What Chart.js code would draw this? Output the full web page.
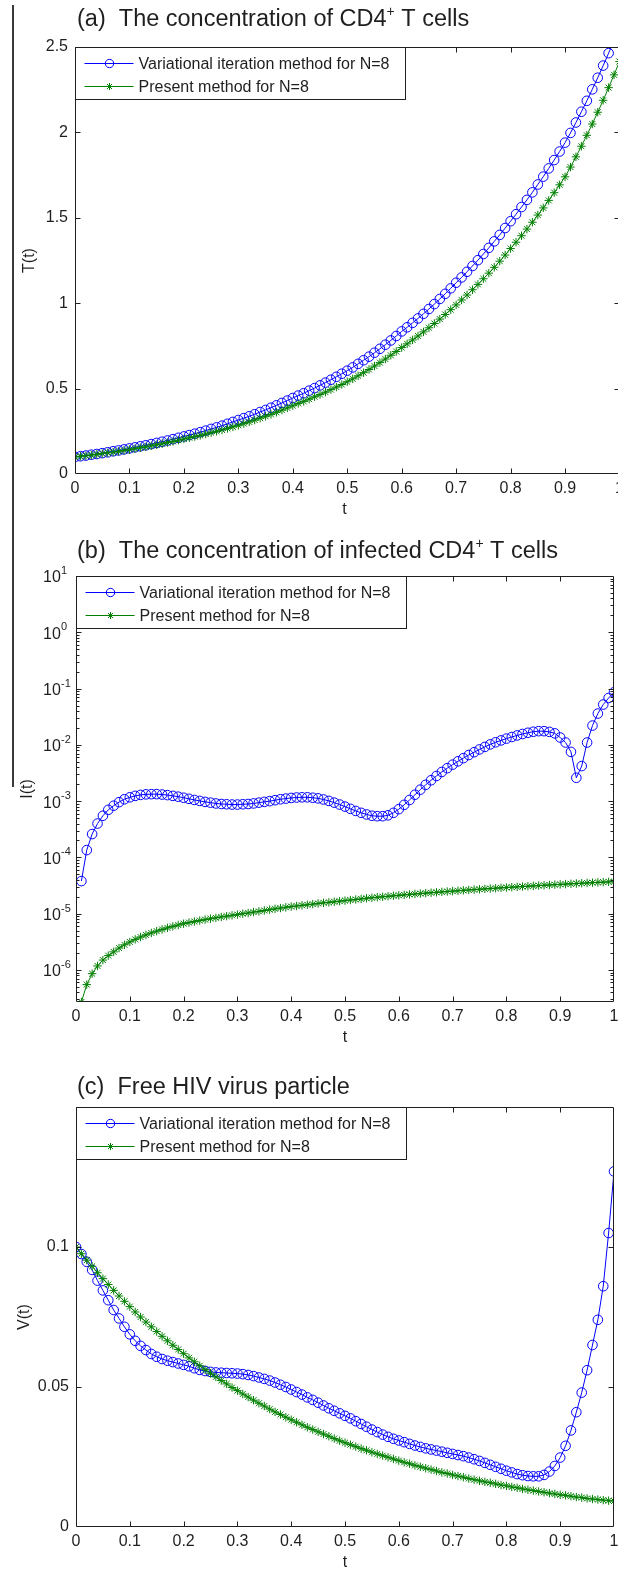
<!DOCTYPE html>
<html><head><meta charset="utf-8">
<title>HIV model: VIM vs present method</title>
<script src="https://cdn.jsdelivr.net/npm/chart.js@4.4.1/dist/chart.umd.min.js"></script>
<style>
html,body{margin:0;padding:0;background:#fff;overflow:hidden;}
body{width:618px;height:1569px;position:relative;}
.panel{position:absolute;left:0;}
#artifact{position:absolute;left:12px;top:5px;width:2px;height:782px;background:#3a3a3a;}
</style></head><body>
<canvas id="ca" class="panel" width="640" height="525" style="top:0"></canvas>
<canvas id="cb" class="panel" width="640" height="525" style="top:525px"></canvas>
<canvas id="cc" class="panel" width="640" height="519" style="top:1050px"></canvas>
<div id="artifact"></div>
<script>
// ---------------- data ----------------
const tValues = [0,0.01,0.02,0.03,0.04,0.05,0.06,0.07,0.08,0.09,0.1,0.11,0.12,0.13,0.14,0.15,0.16,0.17,0.18,0.19,0.2,0.21,0.22,0.23,0.24,0.25,0.26,0.27,0.28,0.29,0.3,0.31,0.32,0.33,0.34,0.35,0.36,0.37,0.38,0.39,0.4,0.41,0.42,0.43,0.44,0.45,0.46,0.47,0.48,0.49,0.5,0.51,0.52,0.53,0.54,0.55,0.56,0.57,0.58,0.59,0.6,0.61,0.62,0.63,0.64,0.65,0.66,0.67,0.68,0.69,0.7,0.71,0.72,0.73,0.74,0.75,0.76,0.77,0.78,0.79,0.8,0.81,0.82,0.83,0.84,0.85,0.86,0.87,0.88,0.89,0.9,0.91,0.92,0.93,0.94,0.95,0.96,0.97,0.98,0.99,1];

const legendLabels = ['Variational iteration method for N=8', 'Present method for N=8'];

// (a) T(t)
const vimT = [0.100,0.104,0.108,0.113,0.117,0.122,0.127,0.133,0.138,0.144,0.150,
0.156,0.162,0.168,0.175,0.182,0.189,0.196,0.204,0.212,0.220,
0.228,0.236,0.245,0.254,0.264,0.273,0.283,0.294,0.305,0.316,
0.327,0.338,0.350,0.363,0.375,0.388,0.402,0.416,0.430,0.445,
0.459,0.473,0.488,0.503,0.519,0.535,0.552,0.569,0.587,0.605,
0.624,0.645,0.666,0.687,0.710,0.733,0.757,0.782,0.808,0.835,
0.859,0.885,0.911,0.938,0.966,0.995,1.025,1.055,1.087,1.120,
1.151,1.184,1.218,1.252,1.288,1.324,1.362,1.400,1.440,1.480,
1.521,1.563,1.605,1.649,1.695,1.741,1.789,1.838,1.888,1.940,
1.997,2.058,2.121,2.185,2.252,2.320,2.391,2.464,2.539,2.616];
const presentT = [0.100,0.104,0.107,0.111,0.115,0.120,0.124,0.128,0.133,0.138,0.143,
0.148,0.154,0.159,0.165,0.171,0.177,0.184,0.191,0.198,0.205,
0.212,0.219,0.226,0.234,0.242,0.250,0.258,0.267,0.276,0.285,
0.295,0.305,0.316,0.327,0.338,0.349,0.361,0.374,0.387,0.400,
0.413,0.425,0.438,0.452,0.465,0.479,0.494,0.509,0.524,0.540,
0.557,0.575,0.593,0.612,0.632,0.652,0.673,0.695,0.717,0.740,
0.762,0.785,0.808,0.832,0.856,0.881,0.907,0.934,0.962,0.990,
1.019,1.048,1.079,1.110,1.143,1.176,1.210,1.246,1.282,1.320,
1.357,1.395,1.434,1.474,1.516,1.558,1.602,1.647,1.693,1.740,
1.797,1.857,1.919,1.983,2.049,2.118,2.188,2.262,2.337,2.415];

// (b) I(t)  (t = 0 gives 0, not shown on a log axis)
const vimI = [null,3.8e-5,1.35e-4,2.6e-4,4.0e-4,5.5e-4,7.0e-4,8.3e-4,9.6e-4,1.08e-3,1.17e-3,
1.24e-3,1.29e-3,1.32e-3,1.33e-3,1.33e-3,1.31e-3,1.28e-3,1.24e-3,1.20e-3,1.15e-3,
1.10e-3,1.05e-3,1.01e-3,9.7e-4,9.4e-4,9.1e-4,8.9e-4,8.8e-4,8.7e-4,8.7e-4,
8.8e-4,8.9e-4,9.1e-4,9.4e-4,9.7e-4,1.0e-3,1.04e-3,1.08e-3,1.11e-3,1.14e-3,
1.16e-3,1.17e-3,1.17e-3,1.15e-3,1.12e-3,1.07e-3,1.01e-3,9.4e-4,8.7e-4,8.0e-4,
7.3e-4,6.7e-4,6.2e-4,5.8e-4,5.5e-4,5.4e-4,5.4e-4,5.6e-4,6.2e-4,7.2e-4,
8.6e-4,1.05e-3,1.3e-3,1.6e-3,1.95e-3,2.35e-3,2.8e-3,3.3e-3,3.85e-3,4.45e-3,
5.1e-3,5.8e-3,6.6e-3,7.4e-3,8.3e-3,9.2e-3,1.02e-2,1.11e-2,1.2e-2,1.29e-2,
1.38e-2,1.47e-2,1.56e-2,1.64e-2,1.71e-2,1.75e-2,1.75e-2,1.7e-2,1.6e-2,1.35e-2,
1.1e-2,7.5e-3,2.6e-3,4.2e-3,1.1e-2,2.2e-2,3.6e-2,5.2e-2,6.8e-2,8.6e-2];
const presentI = [null,2.7e-7,5.5e-7,8.6e-7,1.18e-6,1.5e-6,1.8e-6,2.1e-6,2.45e-6,2.8e-6,3.15e-6,
3.5e-6,3.85e-6,4.2e-6,4.55e-6,4.9e-6,5.25e-6,5.6e-6,5.95e-6,6.3e-6,6.65e-6,
6.95e-6,7.25e-6,7.55e-6,7.85e-6,8.15e-6,8.45e-6,8.75e-6,9.05e-6,9.35e-6,9.65e-6,
1.0e-5,1.03e-5,1.07e-5,1.1e-5,1.14e-5,1.18e-5,1.22e-5,1.26e-5,1.3e-5,1.34e-5,
1.37e-5,1.41e-5,1.44e-5,1.48e-5,1.52e-5,1.56e-5,1.59e-5,1.63e-5,1.67e-5,1.71e-5,
1.75e-5,1.79e-5,1.83e-5,1.88e-5,1.92e-5,1.96e-5,2.0e-5,2.04e-5,2.08e-5,2.12e-5,
2.16e-5,2.2e-5,2.24e-5,2.28e-5,2.32e-5,2.36e-5,2.4e-5,2.44e-5,2.48e-5,2.52e-5,
2.56e-5,2.6e-5,2.64e-5,2.68e-5,2.72e-5,2.76e-5,2.8e-5,2.84e-5,2.88e-5,2.92e-5,
2.96e-5,3.0e-5,3.04e-5,3.08e-5,3.12e-5,3.16e-5,3.2e-5,3.24e-5,3.28e-5,3.32e-5,
3.36e-5,3.4e-5,3.44e-5,3.48e-5,3.52e-5,3.56e-5,3.6e-5,3.64e-5,3.68e-5,3.72e-5];

// (c) V(t)
const vimV = [0.1000,0.0975,0.0947,0.0918,0.0880,0.0845,0.0810,0.0775,0.0745,0.0715,0.0688,
0.0665,0.0647,0.0632,0.0618,0.0608,0.0600,0.0594,0.0589,0.0584,0.0579,
0.0574,0.0567,0.0561,0.0557,0.0554,0.0552,0.0551,0.0550,0.0549,0.0548,
0.0546,0.0543,0.0539,0.0534,0.0529,0.0523,0.0516,0.0508,0.0500,0.0491,
0.0482,0.0473,0.0463,0.0454,0.0444,0.0434,0.0424,0.0415,0.0406,0.0397,
0.0388,0.0378,0.0368,0.0358,0.0348,0.0339,0.0330,0.0322,0.0315,0.0309,
0.0303,0.0297,0.0291,0.0286,0.0281,0.0277,0.0273,0.0269,0.0265,0.0261,
0.0257,0.0253,0.0248,0.0242,0.0236,0.0229,0.0222,0.0215,0.0208,0.0201,
0.0195,0.0189,0.0185,0.0182,0.0181,0.0181,0.0186,0.0198,0.0218,0.0248,
0.0290,0.0345,0.0410,0.0480,0.0560,0.0650,0.0740,0.0860,0.1050,0.1270];
const presentV = [0.1000,0.0976,0.0953,0.0931,0.0908,0.0887,0.0866,0.0845,0.0825,0.0806,0.0787,
0.0768,0.0750,0.0732,0.0715,0.0698,0.0681,0.0665,0.0649,0.0634,0.0619,
0.0604,0.0590,0.0576,0.0562,0.0549,0.0536,0.0523,0.0511,0.0498,0.0487,
0.0475,0.0464,0.0453,0.0442,0.0432,0.0421,0.0411,0.0402,0.0392,0.0383,
0.0374,0.0365,0.0356,0.0348,0.0340,0.0332,0.0324,0.0316,0.0308,0.0301,
0.0294,0.0287,0.0280,0.0274,0.0267,0.0261,0.0255,0.0249,0.0243,0.0237,
0.0231,0.0226,0.0220,0.0215,0.0210,0.0205,0.0200,0.0195,0.0191,0.0186,
0.0182,0.0178,0.0173,0.0169,0.0165,0.0161,0.0158,0.0154,0.0150,0.0147,
0.0143,0.0140,0.0136,0.0133,0.0130,0.0127,0.0124,0.0121,0.0118,0.0115,
0.0113,0.0110,0.0107,0.0105,0.0102,0.0100,0.0098,0.0096,0.0094,0.0093];

// ticks / labels
const xTicks = [0,0.1,0.2,0.3,0.4,0.5,0.6,0.7,0.8,0.9,1];
const yTicksA = [0,0.5,1,1.5,2,2.5];
const yExpB = [1,0,-1,-2,-3,-4,-5,-6];
const yTicksC = [0,0.05,0.1];
const titleA = ['(a)  The concentration of CD4', '+', ' T cells'];
const titleB = ['(b)  The concentration of infected CD4', '+', ' T cells'];
const titleC = ['(c)  Free HIV virus particle'];

// ---------------- drawing ----------------
const FONT = '"Liberation Sans", Arial, Helvetica, sans-serif';
const INK = '#1f1f1f';
const BLUE = 'rgb(0,0,255)';
const GREEN = 'rgb(0,128,0)';

function marker(ctx, style, x, y, r, color) {
  ctx.save();
  ctx.strokeStyle = color; ctx.lineWidth = 1;
  ctx.beginPath();
  if (style === 'circle') { ctx.arc(x, y, r, 0, Math.PI * 2); }
  else {
    ctx.moveTo(x - r, y); ctx.lineTo(x + r, y);
    ctx.moveTo(x, y - r); ctx.lineTo(x, y + r);
    const d = r * 0.707;
    ctx.moveTo(x - d, y - d); ctx.lineTo(x + d, y + d);
    ctx.moveTo(x - d, y + d); ctx.lineTo(x + d, y - d);
  }
  ctx.stroke();
  ctx.restore();
}

const matlabAxes = {
  id: 'matlabAxes',
  afterDatasetsDraw(chart, args, o) {
    const ctx = chart.ctx, a = chart.chartArea, xs = chart.scales.x, ys = chart.scales.y;
    const L = Math.round(a.left) + 0.5, R = Math.round(a.right) - 0.5;
    const T = Math.round(a.top) + 0.5, B = Math.round(a.bottom) - 0.5;
    ctx.save();
    ctx.strokeStyle = INK; ctx.lineWidth = 1;
    ctx.beginPath();
    ctx.rect(L, T, R - L, B - T);
    xs.ticks.forEach(tk => {
      const p = Math.round(xs.getPixelForValue(tk.value)) + 0.5;
      if (p < L + 1 || p > R - 1) return;
      ctx.moveTo(p, B); ctx.lineTo(p, B - 5);
      ctx.moveTo(p, T); ctx.lineTo(p, T + 5);
    });
    ys.ticks.forEach(tk => {
      const p = Math.round(ys.getPixelForValue(tk.value)) + 0.5;
      if (p < T + 1 || p > B - 1) return;
      ctx.moveTo(L, p); ctx.lineTo(L + 5, p);
      ctx.moveTo(R, p); ctx.lineTo(R - 5, p);
    });
    if (o.log) {
      ys.ticks.forEach(tk => {
        for (let m = 2; m <= 9; m++) {
          const v = tk.value * m / 10;
          const p = Math.round(ys.getPixelForValue(v)) + 0.5;
          if (p < T + 1 || p > B - 1) continue;
          ctx.moveTo(L, p); ctx.lineTo(L + 3, p);
          ctx.moveTo(R, p); ctx.lineTo(R - 3, p);
        }
      });
    }
    ctx.stroke();

    // log tick labels 10^n
    if (o.log) {
      ctx.fillStyle = INK; ctx.textBaseline = 'middle'; ctx.textAlign = 'left';
      ys.ticks.forEach((tk, i) => {
        const p = ys.getPixelForValue(tk.value);
        ctx.font = '16px ' + FONT;
        ctx.fillText('10', 43, p + 2);
        ctx.font = '11px ' + FONT;
        ctx.fillText(String(o.exps[i]), 61, p - 5);
      });
    }

    // legend
    const lx = L, ly = T, lw = 330, lh = 52;
    ctx.fillStyle = '#fff';
    ctx.fillRect(lx, ly, lw, lh);
    ctx.strokeStyle = INK;
    ctx.strokeRect(lx, ly, lw, lh);
    chart.data.datasets.forEach((ds, i) => {
      const yy = Math.round(ly + 15 + i * 23) + 0.5;
      ctx.strokeStyle = ds.borderColor; ctx.lineWidth = 1;
      ctx.beginPath(); ctx.moveTo(lx + 9, yy); ctx.lineTo(lx + 58, yy); ctx.stroke();
      marker(ctx, ds.pointStyle, lx + 34, yy, ds.pointStyle === 'circle' ? 4.2 : 3.5, ds.borderColor);
      ctx.fillStyle = INK; ctx.font = '16px ' + FONT; ctx.textBaseline = 'middle'; ctx.textAlign = 'left';
      ctx.fillText(ds.label, lx + 63, yy + 1);
    });

    // title
    ctx.fillStyle = INK; ctx.textBaseline = 'middle'; ctx.textAlign = 'left';
    let tx = 77;
    o.title.forEach((s, i) => {
      if (i === 1) {
        ctx.font = '14px ' + FONT;
        ctx.fillText(s, tx, o.titleY - 8);
      } else {
        ctx.font = '23.5px ' + FONT;
        ctx.fillText(s, tx, o.titleY);
      }
      tx += ctx.measureText(s).width;
    });

    // axis titles
    ctx.font = '16px ' + FONT; ctx.textAlign = 'center';
    ctx.fillText('t', (a.left + Math.min(a.right, 614)) / 2, a.bottom + 36);
    ctx.save();
    ctx.translate(o.yTitleX, (a.top + a.bottom) / 2);
    ctx.rotate(-Math.PI / 2);
    ctx.fillText(o.ytitle, 0, 0);
    ctx.restore();
    ctx.restore();
  }
};

function fmt(v) { return String(Math.round(v * 100) / 100); }

function makeChart(id, cfg) {
  const pts = arr => tValues.map((t, i) => ({ x: t, y: arr[i] }));
  return new Chart(document.getElementById(id), {
    type: 'line',
    data: {
      datasets: [
        { label: legendLabels[0], data: pts(cfg.blue), borderColor: BLUE, backgroundColor: 'rgba(0,0,0,0)',
          borderWidth: 1, pointStyle: 'circle', pointRadius: 4.8, pointBorderWidth: 1,
          pointBackgroundColor: 'rgba(0,0,0,0)', pointBorderColor: BLUE, tension: 0, order: 1 },
        { label: legendLabels[1], data: pts(cfg.green), borderColor: GREEN, backgroundColor: 'rgba(0,0,0,0)',
          borderWidth: 1, pointStyle: 'star', pointRadius: 4.2, pointBorderWidth: 1,
          pointBackgroundColor: 'rgba(0,0,0,0)', pointBorderColor: GREEN, tension: 0, order: 0 }
      ]
    },
    options: {
      responsive: false, animation: false, events: [],
      layout: { padding: { left: 0, top: cfg.top, right: cfg.right, bottom: 0 } },
      plugins: {
        legend: { display: false }, tooltip: { enabled: false }, title: { display: false },
        matlabAxes: { title: cfg.title, titleY: cfg.titleY, ytitle: cfg.ytitle, yTitleX: cfg.yTitleX,
                      log: cfg.log, exps: yExpB }
      },
      scales: {
        x: {
          type: 'linear', min: 0, max: 1,
          afterBuildTicks: s => { s.ticks = xTicks.map(v => ({ value: v })); },
          afterFit: s => { s.height = cfg.xh; },
          ticks: { callback: v => fmt(v), font: { family: FONT, size: 16 }, color: INK, padding: 5,
                   maxRotation: 0, autoSkip: false },
          grid: { display: false, drawTicks: false }, border: { display: false }
        },
        y: Object.assign({
          afterFit: s => { s.width = cfg.left; },
          grid: { display: false, drawTicks: false }, border: { display: false }
        }, cfg.y)
      }
    },
    plugins: [matlabAxes]
  });
}

makeChart('ca', {
  blue: vimT, green: presentT, top: 47, right: 20.5, left: 75, xh: 51,
  title: titleA, titleY: 20, ytitle: 'T(t)', yTitleX: 30, log: false,
  y: { type: 'linear', min: 0, max: 2.5,
       afterBuildTicks: s => { s.ticks = yTicksA.map(v => ({ value: v })); },
       ticks: { callback: v => fmt(v), font: { family: FONT, size: 16 }, color: INK, padding: 7 } }
});

makeChart('cb', {
  blue: vimI, green: presentI, top: 51, right: 26, left: 76, xh: 48,
  title: titleB, titleY: 27, ytitle: 'I(t)', yTitleX: 28, log: true,
  y: { type: 'logarithmic', min: 2.7e-7, max: 10,
       afterBuildTicks: s => { s.ticks = yExpB.map(e => ({ value: Math.pow(10, e) })); },
       ticks: { display: false } }
});

makeChart('cc', {
  blue: vimV, green: presentV, top: 57, right: 26, left: 76, xh: 42,
  title: titleC, titleY: 38, ytitle: 'V(t)', yTitleX: 25, log: false,
  y: { type: 'linear', min: 0, max: 0.15,
       afterBuildTicks: s => { s.ticks = yTicksC.map(v => ({ value: v })); },
       ticks: { callback: v => fmt(v), font: { family: FONT, size: 16 }, color: INK, padding: 7 } }
});
</script>
</body></html>
